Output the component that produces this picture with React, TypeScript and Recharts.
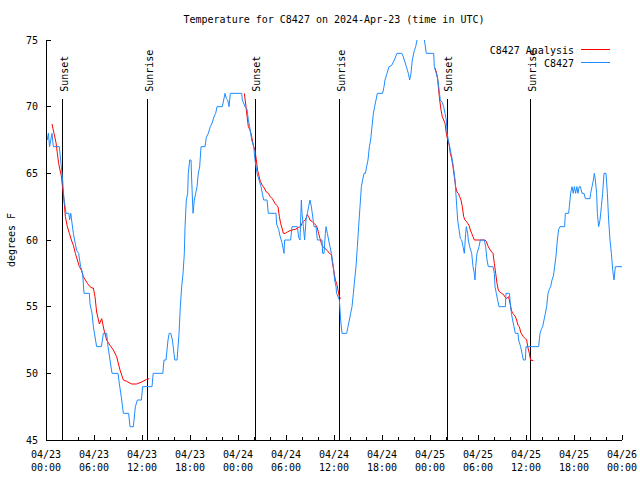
import React from 'react';
import { LineChart, Line, XAxis, YAxis, ReferenceLine } from 'recharts';

// Hours since 2024-04-23 00:00 UTC
const blueHours = [
  0, 0.15, 0.3, 0.45, 0.6, 0.75, 0.92, 1.67, 1.83, 2.08, 2.25, 2.4, 2.5, 2.85, 2.95, 3.1, 3.2, 3.42, 3.58, 3.83,
  4.08, 4.33, 4.58, 4.75, 5.42, 5.5, 5.75, 5.92, 6.33, 6.92, 7.17, 7.58, 7.75, 8.0, 8.25, 9.0, 9.17, 9.42, 9.67, 10.33,
  10.5, 10.92, 11.17, 11.42, 11.92, 12.08, 13.25, 13.4, 14.6, 14.75, 15.0, 15.25, 15.4, 15.6, 15.8, 16.0, 16.1, 16.38, 16.63, 16.79,
  16.96, 17.13, 17.29, 17.38, 17.54, 17.71, 17.79, 17.96, 18.13, 18.21, 18.38, 18.54, 18.71, 18.88, 19.04, 19.21, 19.38, 19.88, 20.04, 20.29,
  20.54, 20.71, 20.88, 21.04, 21.21, 21.38, 22.04, 22.21, 22.38, 22.54, 22.71, 22.88, 23.04, 24.46, 24.54, 24.88, 25.13, 25.29, 25.46, 25.71,
  25.96, 26.13, 26.38, 26.63, 26.88, 27.04, 27.21, 27.63, 27.79, 28.75, 28.83, 29.08, 29.25, 29.5, 29.75, 29.83, 30.58, 30.75, 31.42, 31.58,
  31.75, 31.83, 31.92, 32.0, 32.17, 32.33, 32.5, 32.67, 32.83, 33.0, 33.17, 33.33, 33.5, 33.75, 33.92, 34.5, 34.58, 34.75, 34.92, 35.0,
  35.17, 35.33, 35.5, 35.67, 35.92, 36.08, 36.25, 36.33, 36.67, 36.83, 37.0, 37.58, 37.75, 37.92, 38.08, 38.25, 38.42, 38.58, 38.75, 38.92,
  39.08, 39.25, 39.42, 39.58, 39.75, 39.92, 40.08, 40.25, 40.42, 40.58, 40.75, 40.92, 41.08, 41.25, 41.42, 42.08, 42.25, 42.375, 42.625, 42.875,
  43.21, 43.54, 43.875, 44.46, 44.625, 44.79, 45.04, 45.29, 45.46, 45.625, 45.79, 46.04, 46.21, 46.375, 46.6, 47.1, 47.3, 47.54, 48.46, 48.54,
  48.875, 49.04, 49.125, 49.29, 49.54, 49.71, 49.875, 50.04, 50.15, 50.29, 50.46, 50.625, 50.79, 50.96, 51.125, 51.29, 51.46, 51.625, 51.79, 51.96,
  52.125, 52.29, 52.46, 52.54, 52.71, 52.79, 52.96, 53.21, 53.375, 53.54, 53.625, 53.71, 53.875, 54.125, 54.29, 54.79, 54.96, 55.125, 55.29, 55.875,
  56.04, 56.125, 56.29, 56.625, 57.42, 57.5, 57.92, 58.0, 58.17, 58.33, 58.5, 58.67, 59.0, 59.08, 59.33, 59.5, 59.67, 59.92, 60.0, 61.58,
  61.75, 61.92, 62.08, 62.25, 62.42, 62.58, 62.75, 62.92, 63.08, 63.25, 63.42, 63.58, 63.75, 63.92, 64.08, 64.25, 64.83, 64.92, 65.33, 65.42,
  65.58, 65.75, 65.9, 66.05, 66.2, 66.35, 66.5, 66.65, 66.8, 67.0, 67.25, 67.42, 68.0, 68.08, 68.25, 68.42, 68.54, 68.67, 68.83, 68.92,
  69.08, 69.25, 69.42, 69.58, 69.75, 70.0, 70.17, 70.33, 70.5, 70.67, 70.83, 71.0, 71.17, 72.0,
];
const blueTemps = [
  68, 67.5, 68, 67, 67.5, 68, 67, 67, 66, 64.5, 63, 62.5, 62, 62, 61.5, 62, 61.5, 60.5, 60, 59.2,
  59, 58, 57.5, 56, 56, 55.2, 54.5, 53.5, 52, 52, 53, 53, 52, 51, 50, 50, 49.2, 48.2, 47, 47,
  46, 46, 47.5, 48, 48, 49, 49, 50, 50, 51, 51, 52.5, 53, 53, 52.5, 51.5, 51, 51, 53, 55,
  56.5, 57.5, 59, 61, 63, 63.5, 65, 66, 66, 64.5, 62, 63, 63.5, 64, 65, 65.5, 67, 67, 67.7, 68,
  68.5, 68.7, 69, 69.3, 69.5, 70, 70, 70.5, 71, 70.6, 70.5, 70, 71, 71, 70.5, 70, 69.8, 69, 68.5, 67.5,
  67, 66, 65, 64.5, 64, 63.5, 63, 63, 62, 62, 61.2, 60.8, 60.3, 59.8, 59, 60, 60, 61, 61, 60.2,
  60, 61.5, 63, 62, 61, 60, 61.5, 62, 62.5, 63, 62.5, 61.8, 61, 61, 60, 60, 59, 59, 60.5, 61,
  60.5, 60, 59.5, 59, 58, 57, 56.5, 56, 55.5, 54, 53, 53, 53.5, 54, 54.5, 55, 56, 57, 58, 59.5,
  61, 62.5, 64, 64.5, 65, 65, 65.5, 66, 67, 67.5, 68.5, 69.5, 70, 70.5, 71, 71, 71.5, 72, 72.5, 73,
  73.1, 73.5, 74, 74, 73.8, 73.5, 73, 72.5, 72, 72.5, 73.5, 74.2, 74.5, 75, 75.8, 75.8, 75, 74, 74, 73,
  72.3, 71.8, 71.3, 70.5, 70.3, 70, 69.5, 69, 68, 67.5, 67, 66.5, 66, 65.3, 64.5, 63, 61.5, 60.8, 60.1, 60,
  59.5, 59, 60.5, 61, 60.5, 60, 59.5, 59, 58, 57.5, 57, 58, 59, 59.5, 60, 60, 59.5, 58.5, 58, 58,
  57.5, 56.5, 56, 55, 55, 56, 56, 55.5, 54.5, 54, 53.5, 53, 53, 52.5, 52, 51.5, 51, 51, 52, 52,
  53, 53.3, 53.5, 54, 54.5, 55, 56, 56.3, 56.5, 57, 57.3, 58, 58.8, 60, 60.8, 61, 61, 62, 62, 62.5,
  63.5, 64, 63.5, 64, 63.5, 64, 63.5, 64, 64, 63.5, 63.5, 63.1, 63.1, 63.5, 64, 64.5, 65, 64.5, 63.5, 62,
  61, 61.5, 62.5, 63.5, 65, 65, 63.5, 61.5, 60, 59, 57.8, 57, 58, 58,
];

// Analysis series: null marks the gaps between overnight runs
const redHours = [
  0.75, 1.0, 1.25, 1.42, 1.58, 1.75, 1.92, 2.08, 2.25, 2.42, 2.67, 2.92, 3.17, 3.42, 3.67, 3.92, 4.17, 4.42, 4.67, 4.92,
  5.17, 5.5, 5.75, 5.92, 6.125, 6.33, 6.67, 6.96, 7.25, 7.58, 8.0, 8.42, 8.83, 9.25, 9.67, 10.08, 10.71, 11.33, 11.96, 12.58,
  12.92, 18,
  24.79, 24.96, 25.13, 25.29, 25.46, 25.625, 25.79, 25.96, 26.125, 26.29, 26.46, 26.625, 26.79, 27.04, 27.29, 27.54, 27.79, 28.04, 28.29, 28.625,
  28.83, 29.0, 29.17, 29.33, 29.5, 29.67, 29.92, 30.17, 30.5, 30.75, 31.17, 31.58, 31.83, 32.0, 32.17, 32.42, 32.67, 32.83, 33.0, 33.25,
  33.5, 33.75, 33.92, 34.08, 34.25, 34.42, 34.58, 34.83, 35.17, 35.42, 35.67, 35.83, 36.0, 36.17, 36.33, 36.5, 36.67, 36.83, 42,
  48.625, 48.79, 48.96, 49.04, 49.21, 49.375, 49.54, 49.71, 49.875, 50.04, 50.21, 50.375, 50.54, 50.71, 50.875, 51.04, 51.21, 51.375, 51.54, 51.71,
  51.875, 52.04, 52.21, 52.375, 52.54, 52.71, 52.875, 53.04, 53.21, 53.375, 53.54, 54.71, 54.875, 55.04, 55.21, 55.375, 55.54, 55.71, 55.875, 56.04,
  56.21, 56.375, 56.54, 56.71, 56.96, 57.21, 57.33, 57.58, 57.83, 58.0, 58.17, 58.33, 58.5, 58.67, 58.83, 59.0, 59.17, 59.33, 59.5, 59.67,
  59.92, 60.08, 60.25, 60.42, 60.58, 60.92,
];
const redTemps = [
  68.7, 68.0, 67.3, 66.5, 65.75, 65.25, 64.8, 63.9, 63, 61.75, 61, 60.5, 60, 59.6, 59, 58.5, 58, 57.75, 57.25, 57,
  56.75, 56.5, 56.4, 56.4, 55.75, 54.6, 53.7, 54.1, 53.25, 52.5, 52.1, 51.75, 51.25, 50.25, 49.5, 49.4, 49.2, 49.2, 49.35, 49.55,
  49.6, null,
  71, 70.2, 69.3, 68.5, 68.3, 68, 67.5, 67, 66.75, 66, 65.2, 64.8, 64.4, 64.1, 63.9, 63.6, 63.5, 63.25, 63.1, 62.75,
  62.6, 62.5, 61.75, 61.25, 60.9, 60.5, 60.5, 60.6, 60.7, 60.75, 60.8, 60.95, 61, 61.25, 61.4, 61.5, 61.9, 61.75, 61.5, 61.4,
  61.25, 61.1, 60.9, 60.5, 60.1, 59.75, 59.5, 59.4, 59.2, 59, 58.9, 58.2, 57.6, 57, 56.75, 56.25, 55.75, 55.6, null,
  72.9, 72.6, 72.1, 71.5, 70.5, 69.75, 69.25, 69, 68.75, 68, 67.5, 67.2, 66.5, 66.1, 65.5, 64.75, 64, 63.6, 63.5, 63.25,
  63, 62.5, 61.75, 61.5, 61.4, 61.25, 61.1, 60.75, 60.5, 60.25, 60, 60, 60, 59.9, 59.6, 59.4, 59.25, 59.1, 59, 58.25,
  57.5, 56.75, 56.25, 56.1, 56, 55.9, 55.75, 55.6, 55.75, 55.25, 54.75, 54.5, 54.4, 54.25, 54, 53.6, 53.5, 53.1, 52.9, 52.75,
  52.6, 52.5, 51.9, 51.5, 51, 50.95,
];

const sunHours = [2.08, 12.67, 26.15, 36.67, 50.15, 60.55];
const sunLabels = ['Sunset', 'Sunrise', 'Sunset', 'Sunrise', 'Sunset', 'Sunrise'];
const sunLineTop = 70.55;

const xTicks = [0, 2, 4, 6, 8, 10, 12, 14, 16, 18, 20, 22, 24, 26, 28, 30, 32, 34, 36, 38, 40, 42, 44, 46, 48, 50, 52, 54, 56, 58, 60, 62, 64, 66, 68, 70, 72];
const xDateLabels = ['04/23', '04/23', '04/23', '04/23', '04/24', '04/24', '04/24', '04/24', '04/25', '04/25', '04/25', '04/25', '04/26'];
const xTimeLabels = ['00:00', '06:00', '12:00', '18:00', '00:00', '06:00', '12:00', '18:00', '00:00', '06:00', '12:00', '18:00', '00:00'];
const yTicks = [45, 50, 55, 60, 65, 70, 75];

const titleText = 'Temperature for C8427 on 2024-Apr-23 (time in UTC)';
const yTitle = 'degrees F';
const seriesNames = ['C8427 Analysis', 'C8427'];

const blueData = blueHours.map((h, i) => ({ h, t: blueTemps[i] }));
const redData = redHours.map((h, i) => ({ h, t: redTemps[i] }));

const FONT = '"DejaVu Sans Mono", monospace';
const BLUE = '#1e8cff';
const RED = '#ff0000';
const PL = 46, PR = 622, PT = 40, PB = 440;

const BottomTick = (props: any) => {
  const { x, payload } = props;
  const h = payload.value;
  const major = h % 6 === 0;
  const idx = h / 6;
  return (
    <g>
      <line x1={x} x2={x} y1={PB} y2={PB - (major ? 5 : 3)} stroke="#000" shapeRendering="crispEdges" />
      {major && (
        <text x={x} y={457.5} textAnchor="middle" fontFamily={FONT} fontSize={10} fill="#000">
          {xDateLabels[idx]}
        </text>
      )}
      {major && (
        <text x={x} y={470.8} textAnchor="middle" fontFamily={FONT} fontSize={10} fill="#000">
          {xTimeLabels[idx]}
        </text>
      )}
    </g>
  );
};

const TopTick = (props: any) => {
  const { x, payload } = props;
  const major = payload.value % 6 === 0;
  return <line x1={x} x2={x} y1={PT} y2={PT + (major ? 5 : 3)} stroke="#000" shapeRendering="crispEdges" />;
};

const LeftTick = (props: any) => {
  const { y, payload } = props;
  return (
    <g>
      <line x1={PL} x2={PL + 5} y1={y} y2={y} stroke="#000" shapeRendering="crispEdges" />
      <text x={38} y={y + 3.6} textAnchor="end" fontFamily={FONT} fontSize={10} fill="#000">
        {payload.value}
      </text>
    </g>
  );
};

const RightTick = (props: any) => {
  const { y } = props;
  return <line x1={PR} x2={PR - 5} y1={y} y2={y} stroke="#000" shapeRendering="crispEdges" />;
};

const sunShape = (label: string) => (props: any) => {
  const { x1, y1, x2, y2 } = props;
  const top = Math.min(y1, y2);
  return (
    <g>
      <line x1={x1} y1={y1} x2={x2} y2={y2} stroke="#000" strokeWidth={1} shapeRendering="crispEdges" />
      <text
        transform={`translate(${x1 + 5.2},${top - 7.5}) rotate(-90)`}
        textAnchor="start"
        fontFamily={FONT}
        fontSize={10}
        fill="#000"
      >
        {label}
      </text>
    </g>
  );
};

export default function App() {
  return (
    <div style={{ position: 'absolute', left: 0, top: 0, width: 640, height: 480, background: '#fff' }}>
      <LineChart width={640} height={480} margin={{ top: 40, right: 18, bottom: 0, left: 0 }}>
        <XAxis
          xAxisId="b"
          dataKey="h"
          type="number"
          domain={[0, 72]}
          ticks={xTicks}
          interval={0}
          allowDataOverflow
          height={40}
          tickLine={false}
          axisLine={{ stroke: '#000', shapeRendering: 'crispEdges' }}
          tick={<BottomTick />}
        />
        <XAxis
          xAxisId="t"
          orientation="top"
          dataKey="h"
          type="number"
          domain={[0, 72]}
          ticks={xTicks}
          interval={0}
          height={0}
          tickLine={false}
          axisLine={{ stroke: '#000', shapeRendering: 'crispEdges' }}
          tick={<TopTick />}
        />
        <YAxis
          yAxisId="l"
          type="number"
          domain={[45, 75]}
          ticks={yTicks}
          interval={0}
          allowDataOverflow
          width={46}
          tickLine={false}
          axisLine={{ stroke: '#000', shapeRendering: 'crispEdges' }}
          tick={<LeftTick />}
        />
        <YAxis
          yAxisId="r"
          orientation="right"
          type="number"
          domain={[45, 75]}
          ticks={yTicks}
          interval={0}
          width={0}
          tickLine={false}
          axisLine={{ stroke: '#000', shapeRendering: 'crispEdges' }}
          tick={<RightTick />}
        />
        {sunHours.map((h, i) => (
          <ReferenceLine
            key={'sun' + i}
            xAxisId="b"
            yAxisId="l"
            segment={[{ x: h, y: 45 }, { x: h, y: sunLineTop }]}
            stroke="#000"
            shape={sunShape(sunLabels[i])}
          />
        ))}
        <Line
          xAxisId="b"
          yAxisId="l"
          data={redData}
          dataKey="t"
          name={seriesNames[0]}
          type="linear"
          stroke={RED}
          strokeWidth={1}
          dot={false}
          connectNulls={false}
          isAnimationActive={false}
        />
        <Line
          xAxisId="b"
          yAxisId="l"
          data={blueData}
          dataKey="t"
          name={seriesNames[1]}
          type="linear"
          stroke={BLUE}
          strokeWidth={1}
          dot={false}
          isAnimationActive={false}
        />
      </LineChart>
      <svg
        width={640}
        height={480}
        style={{ position: 'absolute', left: 0, top: 0, pointerEvents: 'none' }}
      >
        <text x={334} y={23} textAnchor="middle" fontFamily={FONT} fontSize={10} fill="#000">
          {titleText}
        </text>
        <text
          transform="translate(14.5,240) rotate(-90)"
          textAnchor="middle"
          fontFamily={FONT}
          fontSize={10}
          fill="#000"
        >
          {yTitle}
        </text>
        <text x={574} y={54} textAnchor="end" fontFamily={FONT} fontSize={10} fill="#000">
          {seriesNames[0]}
        </text>
        <line x1={581} x2={610} y1={49.5} y2={49.5} stroke={RED} strokeWidth={1} />
        <text x={574} y={67} textAnchor="end" fontFamily={FONT} fontSize={10} fill="#000">
          {seriesNames[1]}
        </text>
        <line x1={581} x2={610} y1={62.5} y2={62.5} stroke={BLUE} strokeWidth={1} />
      </svg>
    </div>
  );
}
